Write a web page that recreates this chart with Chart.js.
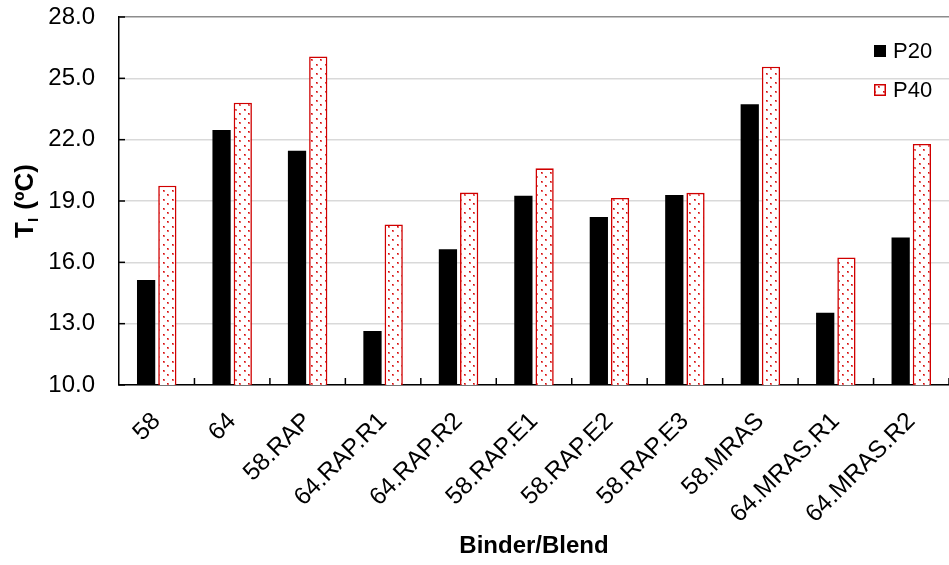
<!DOCTYPE html>
<html>
<head>
<meta charset="utf-8">
<script src="https://cdn.jsdelivr.net/npm/chart.js@4"></script>
<style>
  html, body { margin: 0; padding: 0; background: #ffffff; }
  #wrap { width: 949px; height: 565px; position: relative; }
</style>
</head>
<body>
<div id="wrap"><canvas id="c" width="949" height="565"></canvas></div>
<script>
// ---- data ----
const categories = ['58', '64', '58.RAP', '64.RAP.R1', '64.RAP.R2', '58.RAP.E1', '58.RAP.E2', '58.RAP.E3', '58.MRAS', '64.MRAS.R1', '64.MRAS.R2'];
const seriesNames = ['P20', 'P40'];
const p20 = [15.14, 22.47, 21.46, 12.64, 16.64, 19.26, 18.22, 19.29, 23.73, 13.54, 17.22];
const p40 = [19.75, 23.81, 26.07, 17.85, 19.41, 20.60, 19.15, 19.40, 25.57, 16.24, 21.79];
const yTicks = [10.0, 13.0, 16.0, 19.0, 22.0, 25.0, 28.0];
const xTitle = 'Binder/Blend';
const yTitleMain = 'T';
const yTitleSub = 'I';
const yTitleRest = ' (\u00BAC)';

const FONT = "'Liberation Sans', Arial, Helvetica, sans-serif";
const RED = '#d00000';

// dotted pattern for P40 bars
function makeDotPattern() {
  const t = document.createElement('canvas');
  t.width = 9; t.height = 9;
  const g = t.getContext('2d');
  g.fillStyle = '#ffffff';
  g.fillRect(0, 0, 9, 9);
  g.fillStyle = 'rgba(225,50,50,0.75)';
  g.fillRect(1, 1, 2, 2);
  g.fillRect(5, 5, 2, 2);
  g.fillStyle = 'rgba(210,10,10,1)';
  g.fillRect(1, 1, 1, 1);
  g.fillRect(5, 5, 1, 1);
  const ctx = document.getElementById('c').getContext('2d');
  return ctx.createPattern(t, 'repeat');
}
const dotPattern = makeDotPattern();

// inner tick marks (Excel style)
const innerTicks = {
  id: 'innerTicks',
  afterDraw(chart) {
    const ctx = chart.ctx;
    const ys = chart.scales.y, xs = chart.scales.x;
    const area = chart.chartArea;
    ctx.save();
    ctx.strokeStyle = '#000';
    ctx.lineWidth = 1.5;
    ys.ticks.forEach(t => {
      const py = ys.getPixelForValue(t.value);
      ctx.beginPath();
      ctx.moveTo(area.left, py);
      ctx.lineTo(area.left + 6, py);
      ctx.stroke();
    });
    const n = categories.length;
    const step = xs.getPixelForValue(1) - xs.getPixelForValue(0);
    for (let i = 1; i <= n; i++) {
      const px = xs.getPixelForValue(i - 1) + step / 2;
      ctx.beginPath();
      ctx.moveTo(px, area.bottom);
      ctx.lineTo(px, area.bottom - 7);
      ctx.stroke();
    }
    ctx.restore();
  }
};

// y axis title with subscript
const yTitlePlugin = {
  id: 'yTitlePlugin',
  afterDraw(chart) {
    const ctx = chart.ctx;
    const area = chart.chartArea;
    const cy = (area.top + area.bottom) / 2;
    const mainFont = 'bold 26px ' + FONT;
    const subFont = 'bold 15px ' + FONT;
    ctx.save();
    ctx.font = mainFont;
    const w1 = ctx.measureText(yTitleMain).width;
    const w3 = ctx.measureText(yTitleRest).width;
    ctx.font = subFont;
    const w2 = ctx.measureText(yTitleSub).width + 1;
    const total = w1 + w2 + w3;
    ctx.translate(33, cy);
    ctx.rotate(-Math.PI / 2);
    ctx.fillStyle = '#000';
    ctx.textBaseline = 'alphabetic';
    ctx.textAlign = 'left';
    let x = -total / 2;
    ctx.font = mainFont;
    ctx.fillText(yTitleMain, x, 0);
    x += w1;
    ctx.font = subFont;
    ctx.fillText(yTitleSub, x, 5);
    x += w2;
    ctx.font = mainFont;
    ctx.fillText(yTitleRest, x, 0);
    ctx.restore();
  }
};

// legend drawn inside the plot area, top-right
const legendPlugin = {
  id: 'legendPlugin',
  afterDraw(chart) {
    const ctx = chart.ctx;
    ctx.save();
    ctx.font = '22px ' + FONT;
    ctx.textBaseline = 'middle';
    ctx.textAlign = 'left';
    const rows = [51, 90];
    chart.data.datasets.forEach((ds, i) => {
      const cy = rows[i];
      const bx = 874, size = 12;
      ctx.fillStyle = ds.backgroundColor;
      ctx.fillRect(bx, cy - size / 2, size, size);
      if (i === 1) {
        ctx.strokeStyle = ds.borderColor;
        ctx.lineWidth = 1.5;
        ctx.strokeRect(bx + 0.75, cy - size / 2 + 0.75, size - 1.5, size - 1.5);
      }
      ctx.fillStyle = '#000';
      ctx.fillText(ds.label, 893, cy + 1);
    });
    ctx.restore();
  }
};

new Chart(document.getElementById('c'), {
  type: 'bar',
  data: {
    labels: categories,
    datasets: [
      {
        label: seriesNames[0],
        data: p20,
        backgroundColor: '#000000',
        borderWidth: 0,
        categoryPercentage: 0.5625,
        barPercentage: 0.86
      },
      {
        label: seriesNames[1],
        data: p40,
        backgroundColor: dotPattern,
        borderColor: RED,
        borderWidth: 1.6,
        categoryPercentage: 0.5625,
        barPercentage: 0.86
      }
    ]
  },
  options: {
    responsive: false,
    animation: false,
    devicePixelRatio: 1,
    layout: { padding: { top: 17, right: -3, left: 0, bottom: 0 } },
    plugins: {
      legend: { display: false },
      tooltip: { enabled: false },
      title: { display: false }
    },
    scales: {
      x: {
        type: 'category',
        offset: true,
        grid: { display: false, drawTicks: false, offset: true },
        border: { display: true, color: '#000', width: 1.5 },
        ticks: {
          color: '#000',
          font: { family: FONT, size: 24.5 },
          maxRotation: 45,
          minRotation: 45,
          autoSkip: false,
          padding: 22
        },
        title: {
          display: true,
          text: xTitle,
          color: '#000',
          font: { family: FONT, size: 24, weight: 'bold' },
          padding: { top: 0, bottom: 4 }
        },
        afterFit(scale) {
          scale.height = 180;
          scale.paddingLeft = 0; scale.paddingRight = 0;
          scale.paddingTop = 0; scale.paddingBottom = 0;
        }
      },
      y: {
        min: 10,
        max: 28,
        afterBuildTicks(scale) { scale.ticks = yTicks.map(v => ({ value: v })); },
        grid: {
          drawTicks: false,
          color: ctx => (ctx.tick && ctx.tick.value === 28 ? '#8c8c8c' : '#d9d9d9'),
          lineWidth: 1.5
        },
        border: { display: true, color: '#000', width: 1.5 },
        ticks: {
          color: '#000',
          font: { family: FONT, size: 24 },
          padding: 24,
          callback: v => Number(v).toFixed(1)
        },
        afterFit(scale) {
          scale.width = 119;
          scale.paddingTop = 0; scale.paddingBottom = 0;
          scale.paddingLeft = 0; scale.paddingRight = 0;
        }
      }
    }
  },
  plugins: [innerTicks, yTitlePlugin, legendPlugin]
});
</script>
</body>
</html>
